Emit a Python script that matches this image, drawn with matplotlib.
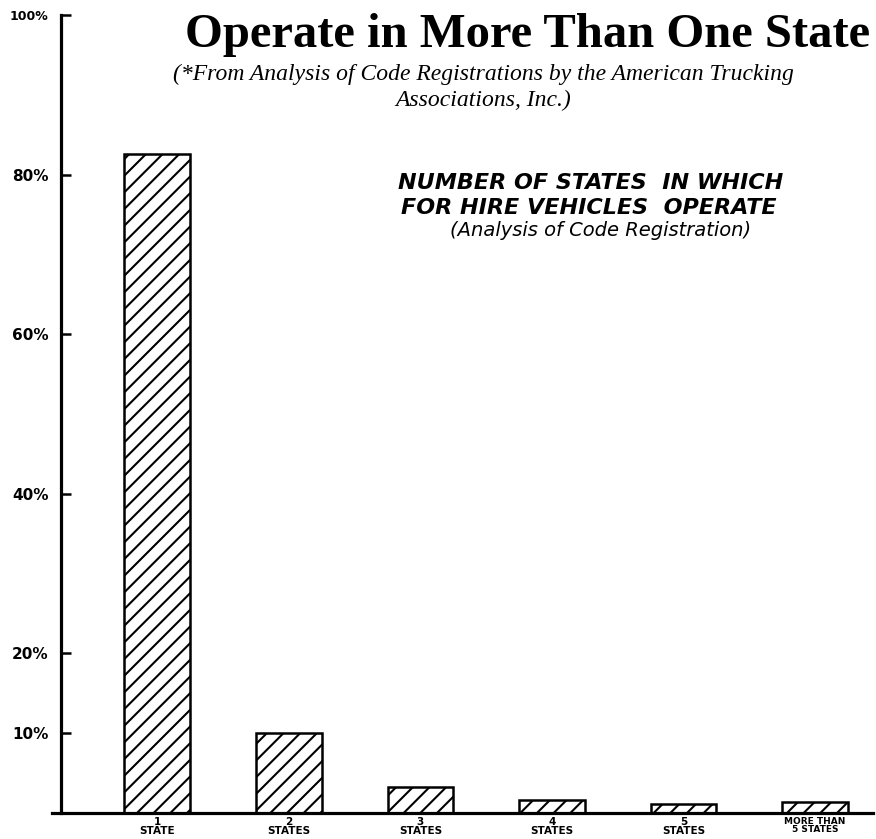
import matplotlib.pyplot as plt
import numpy as np

# share of for-hire vehicles by number of states they operate in
categories = ['1\nSTATE', '2\nSTATES', '3\nSTATES', '4\nSTATES', '5\nSTATES', 'MORE THAN\n5 STATES']
percent = [82.6, 10.0, 3.3, 1.6, 1.1, 1.4]
ytick_values = [10, 20, 40, 60, 80, 100]
ytick_labels = ['10%', '20%', '40%', '60%', '80%', '100%']

W, H = 876, 839
plt.rcParams['hatch.linewidth'] = 1.5

fig = plt.figure(figsize=(W / 100, H / 100), dpi=100)
ax = fig.add_axes([52 / W, 1 - 813 / H, 821 / W, 798 / H])

x = np.arange(len(categories))
ax.bar(x, percent, width=0.5, color='white', edgecolor='black',
       linewidth=1.8, hatch='//', zorder=2)

ax.set_xlim(-0.80, 5.44)
ax.set_ylim(0, 100)

for s in ['top', 'right']:
    ax.spines[s].set_visible(False)
ax.spines['left'].set_position(('data', -0.73))
ax.spines['left'].set_linewidth(2.3)
ax.spines['bottom'].set_linewidth(2.3)
ax.spines['bottom'].set_zorder(3)

ax.set_yticks(ytick_values, ytick_labels)
ax.tick_params(axis='y', direction='in', length=7, width=1.8, pad=9, labelsize=11)
ax.set_xticks(x, categories)
ax.tick_params(axis='x', length=0, pad=3, labelsize=7.5)
for lab in ax.get_yticklabels():
    lab.set_fontweight('bold')
ax.get_yticklabels()[-1].set_fontsize(9)
for lab in ax.get_xticklabels():
    lab.set_fontweight('bold')
    lab.set_linespacing(0.8)
ax.get_xticklabels()[-1].set_fontsize(6.5)

# headline and source note
fig.text(528 / W, 1 - 47 / H, 'Operate in More Than One State', ha='center', va='baseline',
         fontsize=35, fontweight='bold', family='Liberation Serif')
fig.text(483 / W, 1 - 80 / H, '(*From Analysis of Code Registrations by the American Trucking',
         ha='center', va='baseline', fontsize=17, style='italic', family='Liberation Serif')
fig.text(483 / W, 1 - 106 / H, 'Associations, Inc.)',
         ha='center', va='baseline', fontsize=17, style='italic', family='Liberation Serif')

# chart caption
fig.text(591 / W, 1 - 189 / H, 'NUMBER OF STATES  IN WHICH', ha='center', va='baseline',
         fontsize=16, style='italic', fontweight='bold')
fig.text(589 / W, 1 - 214 / H, 'FOR HIRE VEHICLES  OPERATE', ha='center', va='baseline',
         fontsize=16, style='italic', fontweight='bold')
fig.text(601 / W, 1 - 236 / H, '(Analysis of Code Registration)', ha='center', va='baseline',
         fontsize=14, style='italic')

fig.savefig('out.png', dpi=100)
